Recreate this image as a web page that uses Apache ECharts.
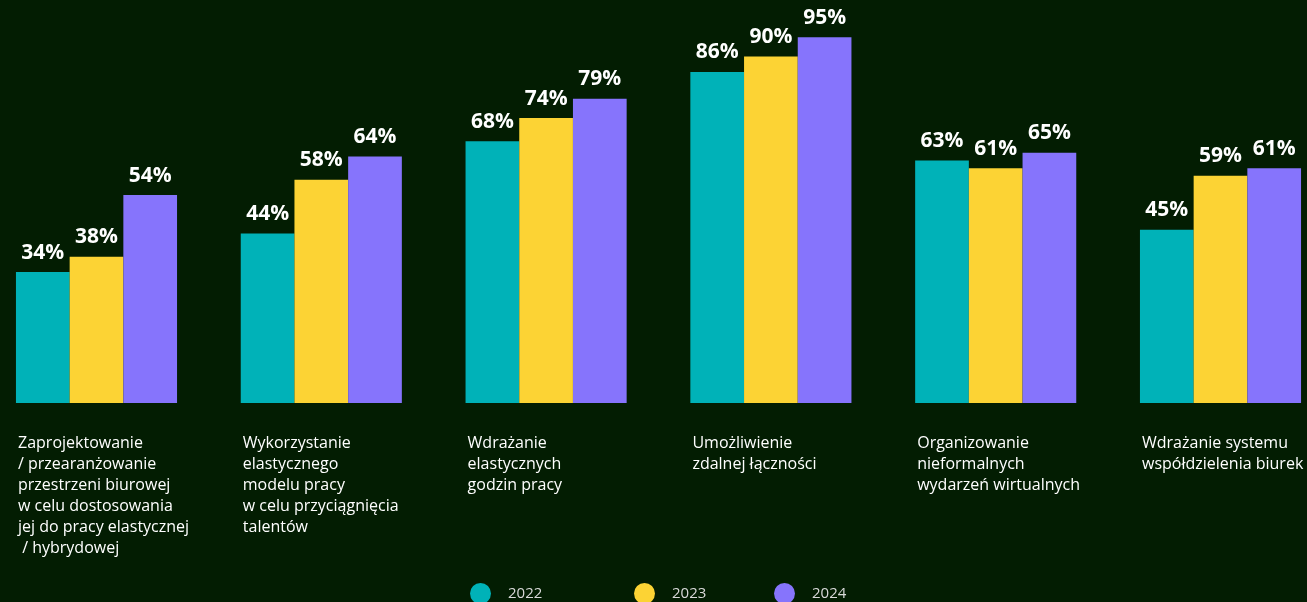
<!DOCTYPE html>
<html>
<head>
<meta charset="utf-8">
<script src="https://cdn.jsdelivr.net/npm/echarts@6/dist/echarts.min.js"></script>
<style>
  html, body { margin: 0; padding: 0; background: #031d02; }
  #chart { width: 1307px; height: 602px; }
</style>
</head>
<body>
<div id="chart"></div>
<script>
// Categories (multi-line labels) and survey shares per year, in percent
const categories = [
  'Zaprojektowanie\n/ przearanżowanie\nprzestrzeni biurowej\nw celu dostosowania\njej do pracy elastycznej\n / hybrydowej',
  'Wykorzystanie\nelastycznego\nmodelu pracy\nw celu przyciągnięcia\ntalentów',
  'Wdrażanie\nelastycznych\ngodzin pracy',
  'Umożliwienie\nzdalnej łączności',
  'Organizowanie\nnieformalnych\nwydarzeń wirtualnych',
  'Wdrażanie systemu\nwspółdzielenia biurek'
];
const years = ['2022', '2023', '2024'];
const values2022 = [34, 44, 68, 86, 63, 45];
const values2023 = [38, 58, 74, 90, 61, 59];
const values2024 = [54, 64, 79, 95, 65, 61];
const colors = ['#00b2b8', '#fcd334', '#8674fc'];

const seriesValues = [values2022, values2023, values2024];

const chart = echarts.init(document.getElementById('chart'));

const gridLeft = -15.9;
const gridWidth = 1348.8;

const legendLefts = [470, 634, 774];

chart.setOption({
  backgroundColor: '#031d02',
  animation: false,
  grid: [
    { left: gridLeft, width: gridWidth, top: 18, bottom: 199, outerBoundsMode: 'none', containLabel: false },
    // label-only grid, shifted so the category names start at the left edge of each bar group
    { left: gridLeft - 78.5, width: gridWidth, top: 18, bottom: 199, outerBoundsMode: 'none', containLabel: false }
  ],
  xAxis: [
    {
      type: 'category', gridIndex: 0, data: categories,
      axisLine: { show: false }, axisTick: { show: false }, axisLabel: { show: false }
    },
    {
      type: 'category', gridIndex: 1, data: categories,
      axisLine: { show: false }, axisTick: { show: false },
      axisLabel: {
        show: true, align: 'left', margin: 30, interval: 0, hideOverlap: false,
        color: '#ffffff', fontFamily: 'Open Sans', fontSize: 16, lineHeight: 21
      }
    }
  ],
  yAxis: [
    { type: 'value', gridIndex: 0, min: 0, max: 100, show: false },
    { type: 'value', gridIndex: 1, min: 0, max: 100, show: false }
  ],
  legend: years.map((y, i) => ({
    data: [y],
    left: legendLefts[i], top: 583, padding: 0,
    icon: 'circle', itemWidth: 21, itemHeight: 21,
    selectedMode: false,
    textStyle: { color: '#d9d9d9', fontFamily: 'Open Sans', fontSize: 15, padding: [6, 0, 0, 12] }
  })),
  series: years.map((y, i) => ({
    name: y,
    type: 'bar',
    xAxisIndex: 0, yAxisIndex: 0,
    data: seriesValues[i],
    barWidth: 53.7,
    barGap: '0%',
    itemStyle: { color: colors[i] },
    label: {
      show: true, position: 'top', distance: 9,
      formatter: '{c}%',
      color: '#ffffff', fontFamily: 'Open Sans', fontWeight: 'bold', fontSize: 21
    }
  }))
});
</script>
</body>
</html>
